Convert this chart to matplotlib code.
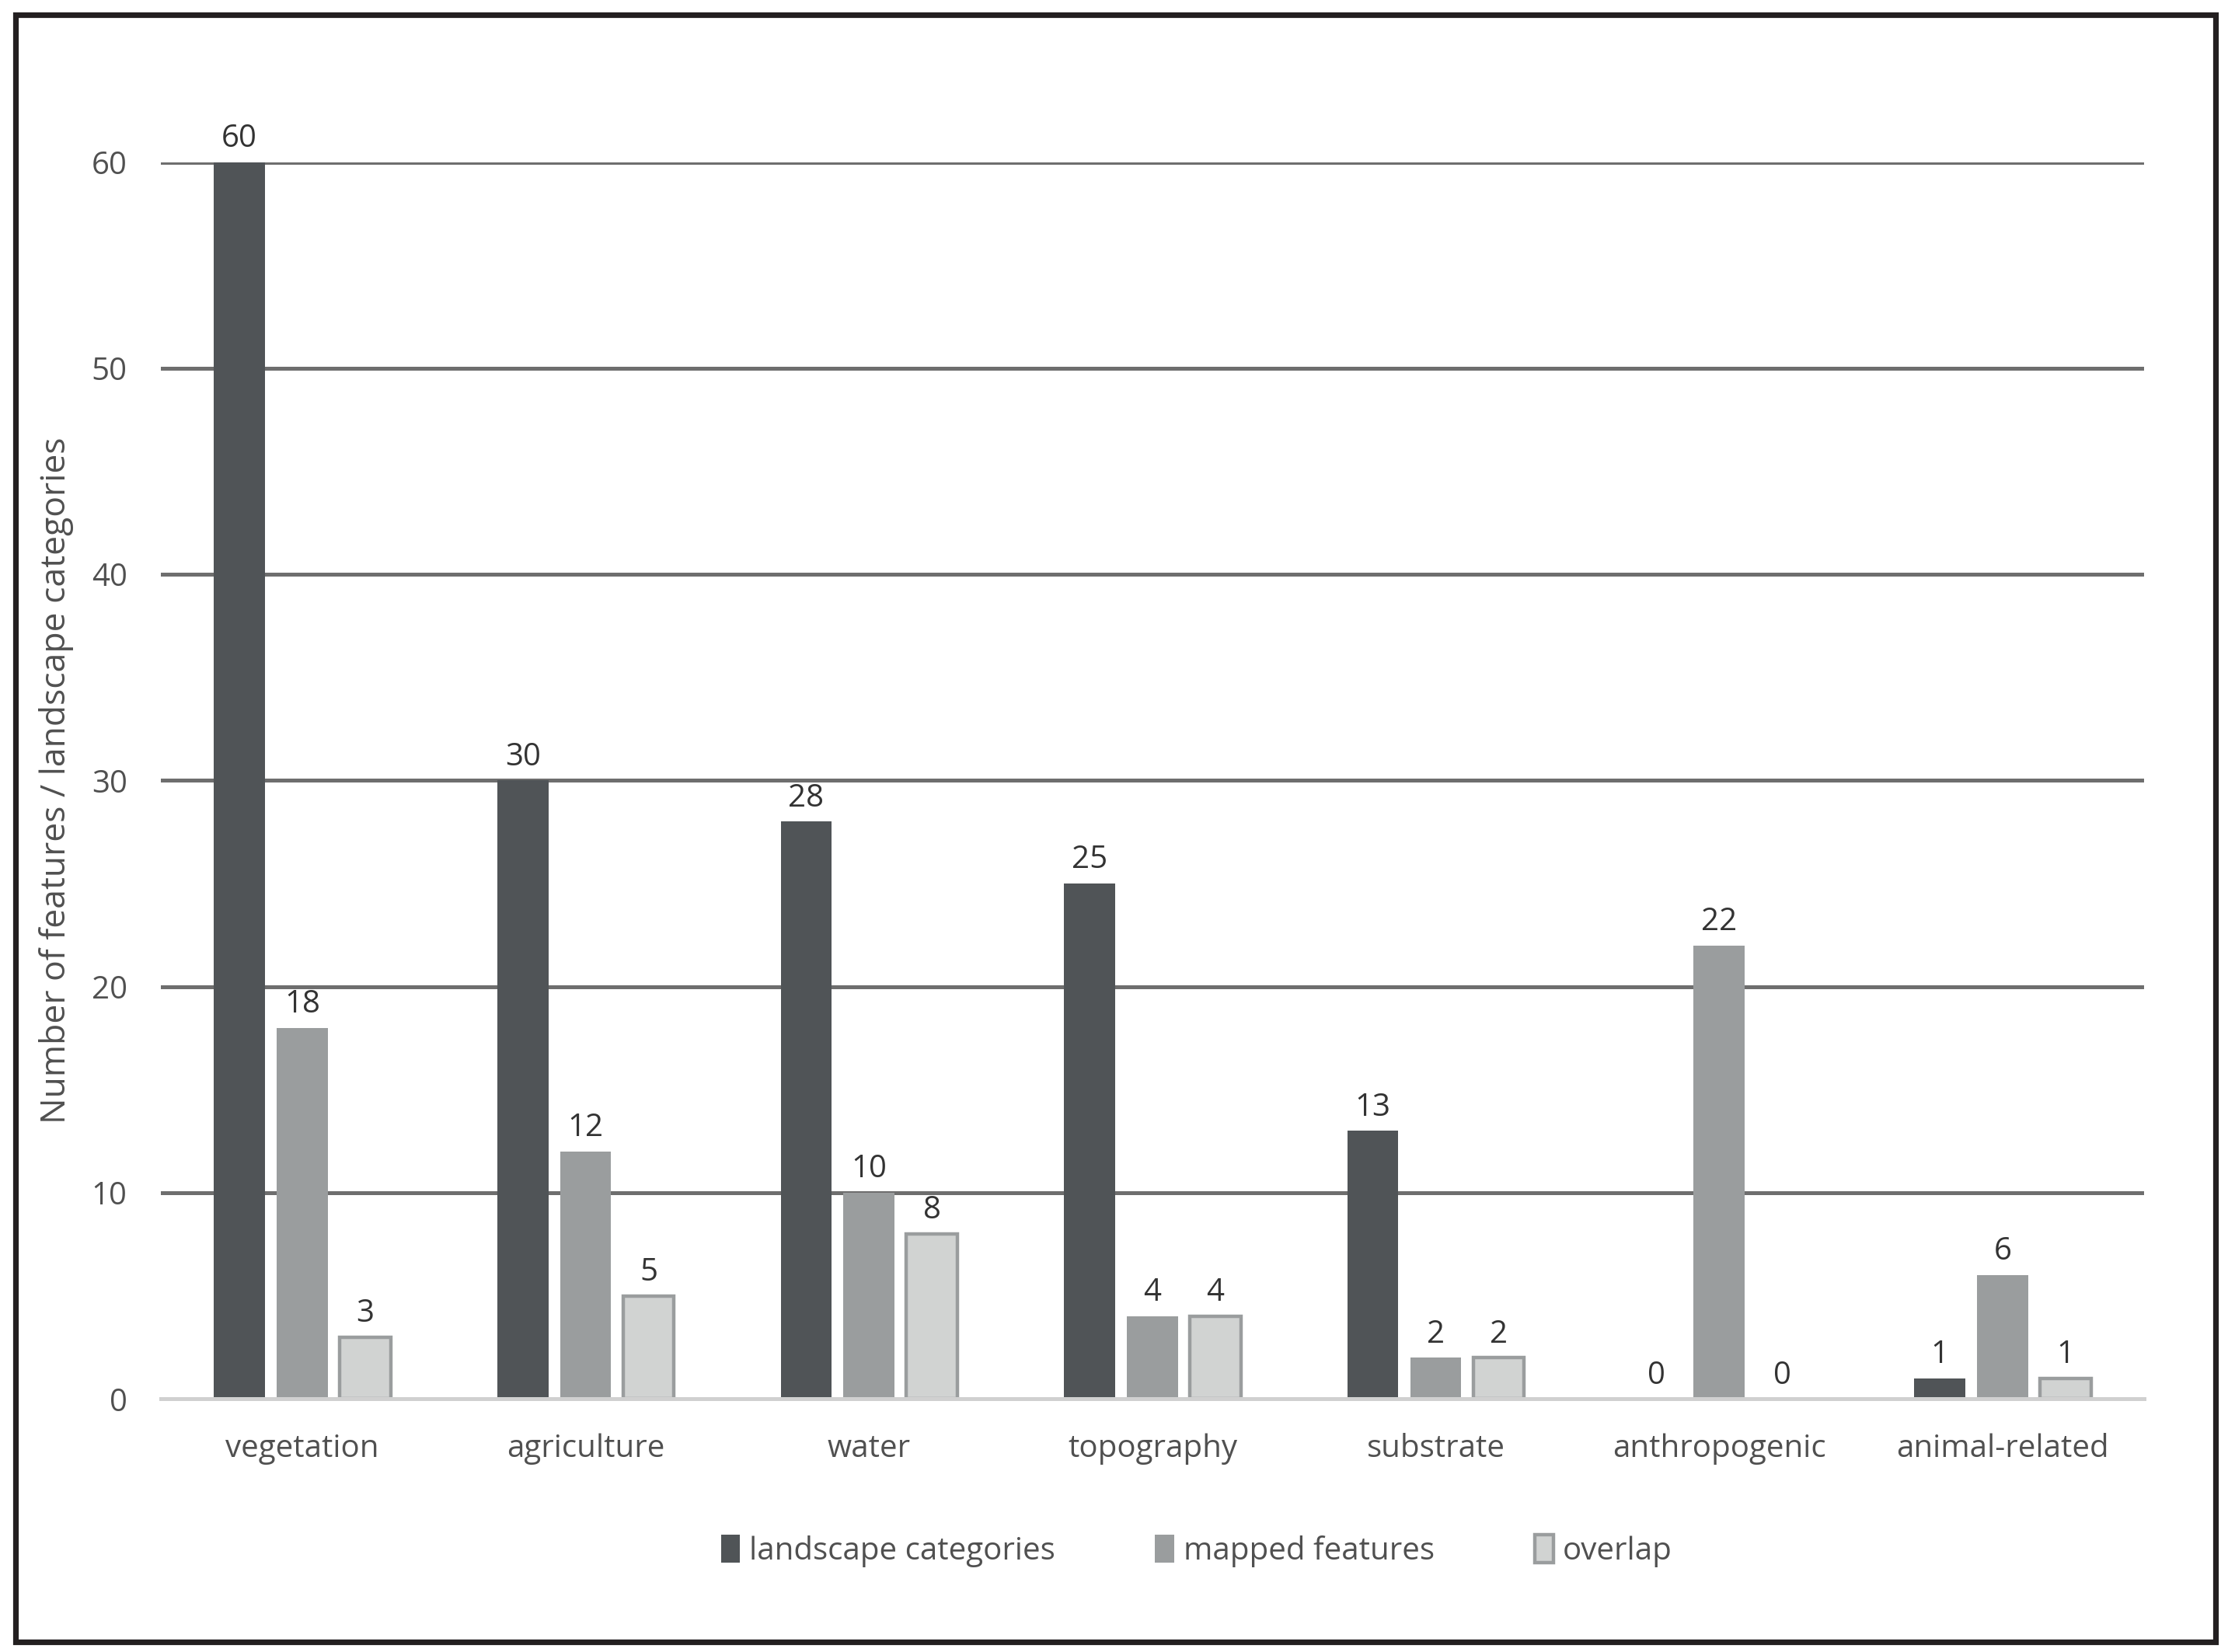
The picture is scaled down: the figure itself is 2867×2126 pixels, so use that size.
import numpy as np
import matplotlib
matplotlib.use("Agg")
import matplotlib.pyplot as plt
from matplotlib.patches import Rectangle

categories = ['vegetation', 'agriculture', 'water', 'topography',
              'substrate', 'anthropogenic', 'animal-related']
landscape_categories = [60, 30, 28, 25, 13, 0, 1]
mapped_features = [18, 12, 10, 4, 2, 22, 6]
overlap = [3, 5, 8, 4, 2, 0, 1]
series_names = ['landscape categories', 'mapped features', 'overlap']

plt.rcParams['font.family'] = ['Open Sans', 'DejaVu Sans']
txt = '#505050'

fig = plt.figure(figsize=(14.335, 10.63), dpi=200)
ax = fig.add_axes([0.0721, 0.1532, 0.8903, 0.7487])

x = np.arange(len(categories))
w = 0.18
step = 0.222
dark = '#505457'
mid = '#9a9d9e'
light = '#d1d3d2'

b1 = ax.bar(x - step, landscape_categories, w, color=dark, zorder=3)
b2 = ax.bar(x, mapped_features, w, color=mid, zorder=3)
lw = [1.6 if v > 0 else 0 for v in overlap]
b3 = ax.bar(x + step, overlap, w, color=light, edgecolor=mid, linewidth=lw, zorder=3)

for bars in (b1, b2, b3):
    ax.bar_label(bars, padding=3.5, fontsize=14.5, color='#333333')

ax.set_xlim(-0.5, len(categories) - 0.5)
ax.set_ylim(0, 60)
ax.set_yticks(range(0, 61, 10))
ax.yaxis.grid(True, color='#6e6e6e', linewidth=1.8, zorder=0)
ax.set_axisbelow(True)
for s in ['top', 'right', 'left']:
    ax.spines[s].set_visible(False)
ax.spines['bottom'].set_color('#d0d0d0')
ax.spines['bottom'].set_linewidth(1.8)
ax.spines['bottom'].set_zorder(4)
ax.tick_params(axis='both', length=0, labelsize=14.5, colors=txt)
ax.tick_params(axis='y', pad=15.5)
ax.tick_params(axis='x', pad=16)
ax.set_xticks(x)
ax.set_xticklabels(categories)
ax.set_ylabel('Number of features / landscape categories', fontsize=16, color=txt, labelpad=8)

leg = fig.legend([b1, b2, b3], series_names, loc='center', bbox_to_anchor=(0.537, 0.061),
                 ncol=3, frameon=False, fontsize=14.5, handlelength=0.6, handleheight=1.0,
                 handletextpad=0.3, columnspacing=3.2)
for t in leg.get_texts():
    t.set_color(txt)

fig.patches.append(Rectangle((0.0070, 0.0060), 0.9875, 0.9850, transform=fig.transFigure,
                             fill=False, edgecolor='#231f20', linewidth=2.6))

fig.savefig('out.png', dpi=200)
